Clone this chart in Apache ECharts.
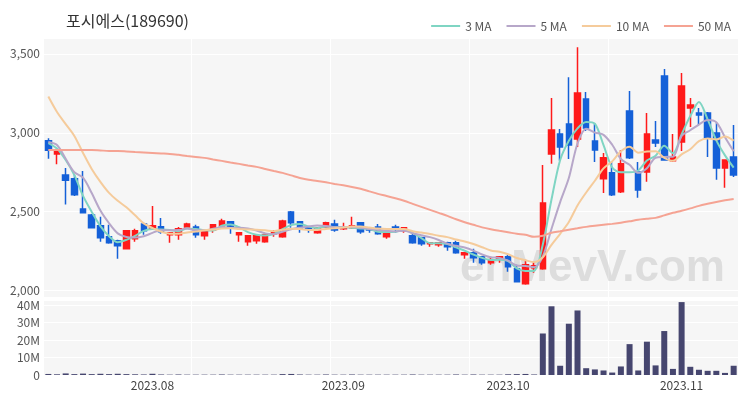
<!DOCTYPE html>
<html>
<head>
<meta charset="utf-8">
<script src="https://cdn.jsdelivr.net/npm/echarts@6/dist/echarts.min.js"></script>
<style>html,body{margin:0;padding:0;background:#fff}#c{width:750px;height:400px}</style>
</head>
<body>
<div id="c"></div>
<script>
const dates = [
"2023.07.14","2023.07.17","2023.07.18","2023.07.19","2023.07.20","2023.07.21","2023.07.24","2023.07.25","2023.07.26","2023.07.27","2023.07.28","2023.07.31",
"2023.08.01","2023.08.02","2023.08.03","2023.08.04","2023.08.07","2023.08.08","2023.08.09","2023.08.10","2023.08.11","2023.08.14","2023.08.16","2023.08.17","2023.08.18","2023.08.21","2023.08.22","2023.08.23","2023.08.24","2023.08.25","2023.08.28","2023.08.29","2023.08.30","2023.08.31",
"2023.09.01","2023.09.04","2023.09.05","2023.09.06","2023.09.07","2023.09.08","2023.09.11","2023.09.12","2023.09.13","2023.09.14","2023.09.15","2023.09.18","2023.09.19","2023.09.20","2023.09.21","2023.09.22","2023.09.25","2023.09.26","2023.09.27",
"2023.10.02","2023.10.04","2023.10.05","2023.10.06","2023.10.10","2023.10.11","2023.10.12","2023.10.13","2023.10.16","2023.10.17","2023.10.18","2023.10.19","2023.10.20","2023.10.23","2023.10.24","2023.10.25","2023.10.26","2023.10.27","2023.10.30","2023.10.31",
"2023.11.01","2023.11.02","2023.11.03","2023.11.06","2023.11.07","2023.11.08","2023.11.09"
];
const opens  = [2950,2865,2733,2708,2518,2480,2411,2341,2316,2265,2329,2423,2392,2405,2354,2354,2404,2404,2348,2385,2411,2436,2354,2310,2316,2310,2360,2341,2499,2436,2398,2367,2404,2423,2392,2398,2430,2398,2404,2341,2404,2379,2348,2335,2297,2291,2303,2303,2228,2240,2215,2177,2202,2215,2139,2044,2145,2139,2866,2992,3055,2961,3213,2948,2708,2746,2626,3138,2752,2752,2954,3359,2822,2942,3157,3125,3125,2999,2777,2847];
const closes = [2890,2890,2700,2607,2493,2398,2335,2303,2284,2379,2379,2379,2411,2373,2367,2392,2423,2354,2373,2417,2442,2398,2367,2348,2348,2354,2373,2442,2430,2398,2392,2398,2430,2385,2398,2411,2373,2385,2360,2367,2392,2398,2303,2297,2303,2303,2278,2240,2240,2208,2177,2196,2215,2152,2057,2164,2158,2556,3018,2910,2923,3251,3030,2891,2841,2607,2803,2841,2638,2992,2935,2828,2847,3296,3176,3112,2967,2777,2828,2733];
const lows   = [2835,2800,2545,2600,2490,2395,2310,2297,2202,2260,2310,2354,2385,2360,2303,2322,2398,2335,2322,2367,2398,2360,2310,2284,2297,2303,2341,2335,2398,2367,2367,2360,2398,2373,2385,2392,2360,2367,2354,2329,2367,2367,2297,2284,2278,2278,2253,2234,2202,2177,2164,2164,2177,2120,2057,2038,2114,2133,2803,2822,2834,2910,3011,2815,2619,2600,2619,2834,2588,2689,2910,2828,2815,2885,3037,3049,2847,2702,2651,2720];
const highs  = [2965,2900,2777,2733,2758,2485,2468,2417,2322,2385,2392,2430,2537,2461,2367,2404,2430,2417,2379,2423,2455,2442,2367,2348,2354,2367,2385,2449,2505,2442,2404,2404,2436,2449,2430,2468,2430,2404,2423,2379,2417,2404,2373,2341,2303,2303,2310,2316,2240,2265,2215,2215,2215,2228,2164,2196,2183,2796,3220,3024,3352,3542,3258,3062,2872,2815,2891,3264,2815,3125,3074,3403,2992,3378,3220,3157,3131,3062,2828,3049];
const volumesM = [0.6,0.4,0.9,0.5,0.8,0.5,0.7,0.5,0.7,0.5,0.4,0.3,0.7,0.3,0.2,0.3,0.2,0.2,0.2,0.2,0.3,0.2,0.2,0.2,0.2,0.2,0.2,0.5,0.6,0.3,0.2,0.2,0.3,0.2,0.2,0.3,0.2,0.2,0.2,0.2,0.2,0.2,0.3,0.2,0.2,0.2,0.2,0.3,0.2,0.3,0.2,0.2,0.2,0.4,0.5,0.6,0.3,
23.8,39.4,5.3,29.4,37.0,3.9,3.2,2.6,1.4,4.9,17.7,2.6,19.1,5.5,25.2,3.5,41.8,4.7,3.0,2.4,2.4,1.2,5.3];
// moving-average values before enough closes exist
const ma3Head  = [2935,2900];
const ma5Head  = [2942,2923,2835,2750];
const ma10Head = [3229,3131,3055,2980,2872,2771,2689,2619,2569];
const ma50 = [2891,2891,2891,2891,2891,2891,2888,2885,2885,2882,2878,2875,2872,2869,2866,2860,2853,2847,2841,2831,2822,2812,2803,2793,2784,2771,2758,2746,2730,2714,2702,2695,2686,2676,2667,2657,2645,2629,2613,2600,2585,2569,2550,2531,2512,2493,2474,2452,2433,2417,2401,2389,2379,2370,2360,2354,2341,2348,2367,2376,2386,2395,2404,2411,2417,2423,2430,2439,2449,2455,2461,2477,2493,2506,2521,2537,2550,2562,2572,2581];
const yTicks = [2000,2500,3000,3500];

function movingAvg(n, head){
  return closes.map((c,i)=>{
    if (i < n-1) return head[i];
    let s = 0; for (let k=i-n+1;k<=i;k++) s += closes[k];
    return Math.round(s/n);
  });
}
const ma3 = movingAvg(3, ma3Head), ma5 = movingAvg(5, ma5Head), ma10 = movingAvg(10, ma10Head);
const candles = opens.map((o,i)=>[o, closes[i], lows[i], highs[i]]);
const volumes = volumesM.map(v=>v*1e6);

const FONT = 'Noto Sans CJK KR';
const splitIdx = [17,33,49,65];
const maColors = {'3 MA':'#7fd5c3','5 MA':'#b7a7c9','10 MA':'#f5cb9b','50 MA':'#f5a393'};
const chart = echarts.init(document.getElementById('c'));
chart.setOption({
  animation:false,
  textStyle:{fontFamily:FONT},
  title:{text:'포시에스(189690)', left:61, top:8, textStyle:{fontSize:16, fontWeight:'normal', color:'#333', fontFamily:FONT}},
  legend:{right:14, top:15, icon:'rect', itemWidth:29, itemHeight:2, itemGap:15,
    data:Object.keys(maColors), textStyle:{fontSize:12, color:'#555', fontFamily:FONT}},
  grid:[
    {left:44, right:12, top:38, height:259, show:true, backgroundColor:'#f6f6f6', borderWidth:0},
    {left:44, right:12, top:300, height:75, show:true, backgroundColor:'#f6f6f6', borderWidth:0}
  ],
  xAxis:[
    {type:'category', gridIndex:0, data:dates, boundaryGap:true, axisLine:{show:false}, axisTick:{show:false}, axisLabel:{show:false},
     splitLine:{show:true, interval:(i)=>splitIdx.includes(i), lineStyle:{color:'#ffffff', width:1}}},
    {type:'category', gridIndex:1, data:dates, boundaryGap:true, axisLine:{show:false}, axisTick:{show:false},
     axisLabel:{interval:(i,v)=> i>0 && dates[i-1].slice(0,7)!==v.slice(0,7), formatter:(v)=>v.slice(0,7), fontSize:12, color:'#444', margin:4, fontFamily:FONT},
     splitLine:{show:true, interval:(i)=>splitIdx.includes(i), lineStyle:{color:'#ffffff', width:1}}}
  ],
  yAxis:[
    {type:'value', gridIndex:0, min:1960, max:3600, splitNumber:3, axisLine:{show:false}, axisTick:{show:false},
     axisLabel:{showMinLabel:false, showMaxLabel:false, fontSize:12, color:'#555', margin:4, fontFamily:FONT,
       formatter:(v)=> yTicks.includes(v) ? v.toLocaleString('en-US') : ''},
     splitLine:{lineStyle:{color:'#ffffff', width:1}}},
    {type:'value', gridIndex:1, min:0, max:43000000, interval:10000000, axisLine:{show:false}, axisTick:{show:false},
     axisLabel:{showMaxLabel:false, fontSize:12, color:'#555', margin:4, fontFamily:FONT, formatter:(v)=> v===0?'0':(v/1e6)+'M'},
     splitLine:{lineStyle:{color:'#ffffff', width:1}}}
  ],
  graphic:[{type:'text', z:1, left:460, top:247, style:{text:'enMevV.com', font:'bold 44px "Liberation Sans", Arial, sans-serif', fill:'rgba(185,185,185,0.42)'}}],
  series:[
    {type:'candlestick', name:'price', xAxisIndex:0, yAxisIndex:0, data:candles, barWidth:6,
     itemStyle:{color:'#ff1a1a', color0:'#1460d8', borderColor:'#ff1a1a', borderColor0:'#1460d8', borderWidth:1.5}, z:3},
    {type:'line', name:'3 MA', data:ma3, symbol:'none', smooth:0.3, lineStyle:{width:2, color:maColors['3 MA']}, itemStyle:{color:maColors['3 MA']}, z:4},
    {type:'line', name:'5 MA', data:ma5, symbol:'none', smooth:0.3, lineStyle:{width:2, color:maColors['5 MA']}, itemStyle:{color:maColors['5 MA']}, z:4},
    {type:'line', name:'10 MA', data:ma10, symbol:'none', smooth:0.3, lineStyle:{width:2, color:maColors['10 MA']}, itemStyle:{color:maColors['10 MA']}, z:4},
    {type:'line', name:'50 MA', data:ma50, symbol:'none', smooth:0.3, lineStyle:{width:2, color:maColors['50 MA']}, itemStyle:{color:maColors['50 MA']}, z:4},
    {type:'bar', name:'volume', xAxisIndex:1, yAxisIndex:1, data:volumes, barWidth:6, itemStyle:{color:'#46466f'}}
  ]
});
</script>
</body>
</html>
